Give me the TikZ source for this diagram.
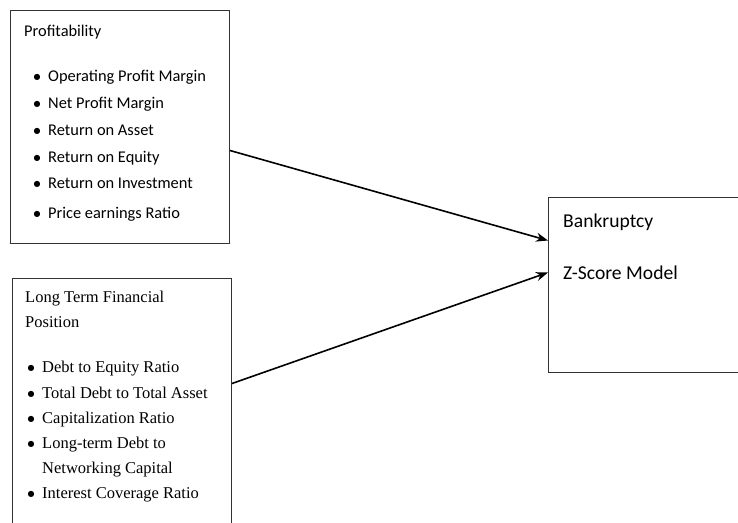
\documentclass[tikz,border=0pt]{standalone}
\usepackage{fontspec}
\setmainfont{Carlito}
\newfontfamily\tnr{Liberation Serif}
\newfontfamily\bul{DejaVu Sans}
\usetikzlibrary{arrows.meta}
\begin{document}
\begin{tikzpicture}[x=1pt,y=-1pt,
  box/.style={draw=black!80,line width=1pt,rectangle,inner sep=0pt},
  txt/.style={inner sep=0pt,anchor=base west,font=\fontsize{16.4}{19}\selectfont},
  stxt/.style={inner sep=0pt,anchor=base west,font=\tnr\fontsize{16.5}{19}\selectfont},
  btxt/.style={inner sep=0pt,anchor=base west,font=\fontsize{19.6}{22}\selectfont},
  bull/.style={inner sep=0pt,anchor=base,font=\bul\fontsize{8}{8}\selectfont},
  conn/.style={line width=1.6pt,-{Stealth[length=12pt,width=9pt]}}]
\clip (0,0) rectangle (738,522);
\fill[white] (0,0) rectangle (738,522);
% boxes
\node[box,minimum width=219pt,minimum height=233pt,anchor=north west] (b1) at (10,10) {};
\node[box,minimum width=219pt,minimum height=252pt,anchor=north west] (b2) at (12,278) {};
\node[box,minimum width=200pt,minimum height=175pt,anchor=north west] (b3) at (548,197) {};
% box 1 text
\node[txt] (p0) at (24,36) {Profitability};
\node[bull] (pb1) at (37,79) {●}; \node[txt] (p1) at (48,81) {Operating Profit Margin};
\node[bull] (pb2) at (37,106) {●}; \node[txt] (p2) at (48,108) {Net Profit Margin};
\node[bull] (pb3) at (37,133) {●}; \node[txt] (p3) at (48,135) {Return on Asset};
\node[bull] (pb4) at (37,160) {●}; \node[txt] (p4) at (48,162) {Return on Equity};
\node[bull] (pb5) at (37,186) {●}; \node[txt] (p5) at (48,188) {Return on Investment};
\node[bull] (pb6) at (37,216) {●}; \node[txt] (p6) at (48,218) {Price earnings Ratio};
% box 2 text
\node[stxt] (l0) at (25,302) {Long Term Financial};
\node[stxt] (l0b) at (25,327) {Position};
\node[bull] (lb1) at (31,370) {●}; \node[stxt] (l1) at (42,372) {Debt to Equity Ratio};
\node[bull] (lb2) at (31,396) {●}; \node[stxt] (l2) at (42,398) {Total Debt to Total Asset};
\node[bull] (lb3) at (31,421) {●}; \node[stxt] (l3) at (42,423) {Capitalization Ratio};
\node[bull] (lb4) at (31,446) {●}; \node[stxt] (l4) at (42,448) {Long-term Debt to};
\node[stxt] (l4b) at (42,473) {Networking Capital};
\node[bull] (lb5) at (31,496) {●}; \node[stxt] (l5) at (42,498) {Interest Coverage Ratio};
% box 3 text
\node[btxt] (z1) at (563,227) {Bankruptcy};
\node[btxt] (z2) at (563,279) {Z-Score Model};
% connectors
\draw[conn] ([yshift=-23.5pt]b1.east) -- ([yshift=44.5pt]b3.west);
\draw[conn] ([yshift=21pt]b2.east) -- ([yshift=12.5pt]b3.west);
\end{tikzpicture}
\end{document}
